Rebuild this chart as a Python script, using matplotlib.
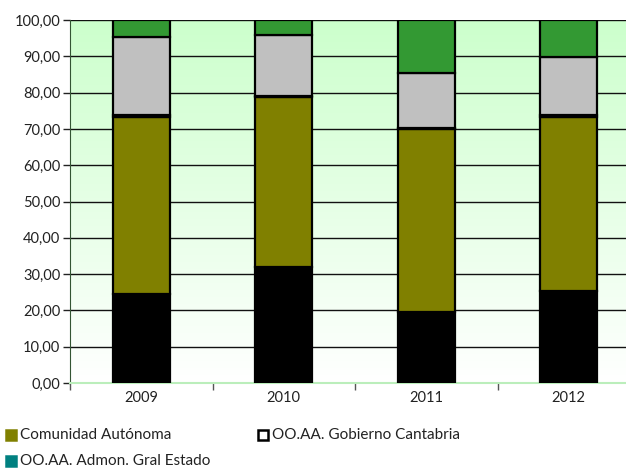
import numpy as np
import matplotlib
matplotlib.use("Agg")
import matplotlib.pyplot as plt
from matplotlib.patches import Rectangle
from matplotlib.ticker import FuncFormatter, MultipleLocator

# Datos (porcentajes)
years = ["2009", "2010", "2011", "2012"]
otros_abajo = [24.6, 31.9, 19.5, 25.4]
comunidad_autonoma = [48.8, 47.0, 50.4, 48.0]
ooaa_gobierno_cantabria = [0.3, 0.3, 0.3, 0.3]
ooaa_admon_gral_estado = [0.0, 0.0, 0.0, 0.0]
gris = [21.7, 16.8, 15.3, 16.2]
verde = [4.6, 4.0, 14.5, 10.1]

series = [
    ("Estado", otros_abajo, "#000000"),
    ("Comunidad Autónoma", comunidad_autonoma, "#808000"),
    ("OO.AA. Gobierno Cantabria", ooaa_gobierno_cantabria, "#ffffff"),
    ("OO.AA. Admon. Gral Estado", ooaa_admon_gral_estado, "#008080"),
    ("Otros", gris, "#c0c0c0"),
    ("Resto", verde, "#339933"),
]
legend_items = [
    ("Comunidad Autónoma", "#808000", 0.010, 435),
    ("OO.AA. Gobierno Cantabria", "#ffffff", 0.412, 435),
    ("OO.AA. Admon. Gral Estado", "#008080", 0.010, 461),
]

plt.rcParams['font.family'] = ['Lato', 'DejaVu Sans']
W, H = 626, 468
fig = plt.figure(figsize=(W / 100, H / 100), dpi=100)
ax = fig.add_axes([70 / W, 1 - 383 / H, 570 / W, 363 / H])

# fondo degradado verde claro -> blanco
grad = np.linspace(0, 1, 256).reshape(-1, 1)
cmap = matplotlib.colors.LinearSegmentedColormap.from_list("g", ["#ffffff", "#ccffcc"])
ax.imshow(grad, aspect="auto", cmap=cmap, origin="lower",
          extent=[-0.5, 3.5, 0, 100], zorder=0)

x = np.arange(len(years))
bottom = np.zeros(len(years))
for name, vals, col in series:
    ax.bar(x, vals, 0.40, bottom=bottom, color=col, edgecolor="black",
           linewidth=1.6, zorder=3)
    bottom += np.array(vals)

ax.set_xlim(-0.5, 3.5)
ax.set_ylim(0, 100)
ax.yaxis.set_major_locator(MultipleLocator(10))
ax.yaxis.set_major_formatter(FuncFormatter(lambda v, p: f"{v:.2f}".replace(".", ",")))
ax.grid(axis="y", color="#111111", linewidth=1.0, zorder=1)
ax.set_axisbelow(True)

ax.set_xticks(x)
ax.set_xticklabels(years)
ax.set_xticks(np.arange(-0.5, 3.6, 1), minor=True)
ax.tick_params(axis="x", which="major", length=0, pad=6, labelsize=10.5, colors="#222222")
ax.tick_params(axis="x", which="minor", length=5, width=1, color="#555555")
ax.tick_params(axis="y", length=5, width=1, labelsize=10.5, colors="#222222", pad=2)
for lab in ax.get_xticklabels() + ax.get_yticklabels():
    lab.set_color("#222222")

ax.spines["top"].set_visible(False)
ax.spines["right"].set_visible(False)
ax.spines["left"].set_color("#335533")
ax.spines["bottom"].set_color("#bbeebb")
ax.spines["bottom"].set_linewidth(1.5)

# leyenda (parcialmente visible, como en el original)
for name, col, fx, py in legend_items:
    fig.patches.append(Rectangle((fx, 1 - (py + 5) / H), 10 / W, 10 / H,
                                 transform=fig.transFigure, facecolor=col,
                                 edgecolor="black" if col == "#ffffff" else col,
                                 linewidth=1.8))
    fig.text(fx + 14 / W, 1 - py / H, name, fontsize=11, va="center",
             color="#222222")

fig.savefig("out.png", dpi=100)
